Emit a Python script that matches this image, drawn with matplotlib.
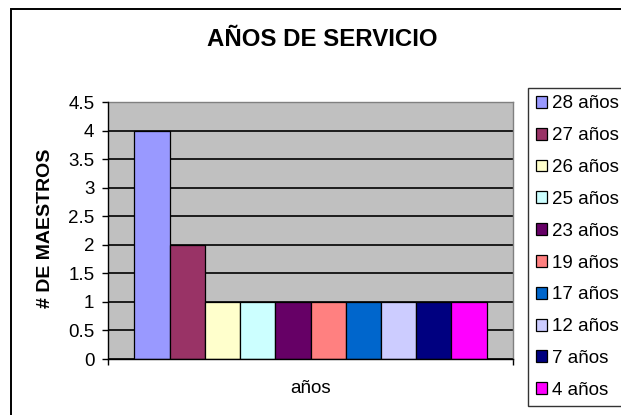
import matplotlib
matplotlib.use("Agg")
import matplotlib.pyplot as plt
from matplotlib.patches import Rectangle, Patch

plt.rcParams['font.family'] = ['Liberation Sans', 'DejaVu Sans']

# datos
series = ["28 años", "27 años", "26 años", "25 años", "23 años",
          "19 años", "17 años", "12 años", "7 años", "4 años"]
maestros = [4, 2, 1, 1, 1, 1, 1, 1, 1, 1]
colores = ["#9999FF", "#993366", "#FFFFCC", "#CCFFFF", "#660066",
           "#FF8080", "#0066CC", "#CCCCFF", "#000080", "#FF00FF"]
yticks = [0, 0.5, 1, 1.5, 2, 2.5, 3, 3.5, 4, 4.5]
ytick_labels = ["0", "0.5", "1", "1.5", "2", "2.5", "3", "3.5", "4", "4.5"]

W, H = 621, 415
fig = plt.figure(figsize=(W / 100, H / 100), dpi=100)

# marco exterior (se sale por la derecha y por abajo)
top = 1 - 9 / H
fig.patches.append(Rectangle((11 / W, -0.2), 1.2, top + 0.2,
                             transform=fig.transFigure, fill=False,
                             edgecolor="black", linewidth=1.4))

ax = fig.add_axes([108 / W, 1 - 359 / H, (513 - 108) / W, (359 - 102) / H])
ax.set_facecolor("#C0C0C0")

x = list(range(len(series)))
for i in x:
    ax.bar(i, maestros[i], width=1.0, color=colores[i], edgecolor="black",
           linewidth=0.9, zorder=3, label=series[i])

ax.set_xlim(-1.25, len(series) - 1 + 1.25)
ax.set_ylim(0, 4.5)
ax.set_yticks(yticks)
ax.set_yticklabels(ytick_labels, fontsize=13.5)
ax.set_xticks([-1.25, len(series) - 1 + 1.25])
ax.set_xticklabels([])
ax.tick_params(axis="both", direction="out", length=4.3, width=1.0,
               color="black", pad=5.5)

# grilla
ax.yaxis.grid(True, color="black", linewidth=1.2, zorder=1)
ax.set_axisbelow(True)

for s in ["top", "right"]:
    ax.spines[s].set_color("#808080")
    ax.spines[s].set_linewidth(1.0)
for s in ["left", "bottom"]:
    ax.spines[s].set_color("black")
    ax.spines[s].set_linewidth(1.0)
    ax.spines[s].set_zorder(4)

fig.text(322 / W, 1 - 39 / H, "AÑOS DE SERVICIO", fontsize=17.3,
         fontweight="bold", ha="center", va="center")
fig.text(46 / W, 1 - 228 / H, "# DE MAESTROS", fontsize=14,
         fontweight="bold", rotation=90, ha="center", va="center")
fig.text(311 / W, 1 - 388 / H, "años", fontsize=13.5, ha="center",
         va="center")

handles = [Patch(facecolor=colores[i], edgecolor="black", linewidth=0.9)
           for i in x]
leg = fig.legend(handles, series, loc="upper left",
                 bbox_to_anchor=(528 / W, 1 - 88 / H), fontsize=13.5,
                 frameon=True, fancybox=False, edgecolor="black",
                 borderpad=0.4, labelspacing=0.79, handlelength=0.6,
                 handleheight=0.6, handletextpad=0.3, borderaxespad=0)
leg.get_frame().set_linewidth(1.0)

fig.savefig("out.png", dpi=100)
